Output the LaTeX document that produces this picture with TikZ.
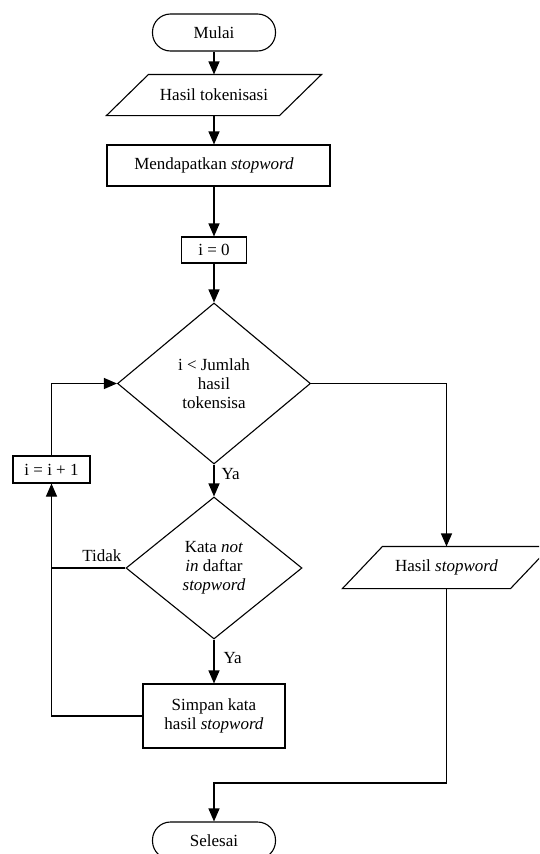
\documentclass[tikz,border=0pt]{standalone}
\usepackage{fontspec}
\setmainfont{Liberation Serif}
\usetikzlibrary{arrows.meta,shapes.geometric,calc}
\begin{document}
\begin{tikzpicture}[x=1pt,y=-1pt, line width=1.1pt,
  every node/.style={font=\fontsize{17}{19}\selectfont, inner sep=0pt, align=center},
  box/.style={draw, rectangle},
  term/.style={draw, rectangle, rounded corners=18pt, minimum width=123pt, minimum height=37pt},
  dec/.style={draw, diamond},
  para/.style={rectangle},
  arr/.style={-{Triangle[length=13pt,width=11pt]}},
]
\useasboundingbox (0,0) rectangle (539,854);
\clip (0,0) rectangle (539,854);

% nodes
\node[term] (mulai) at (214,32.5) {Mulai};
\node[para, minimum width=172pt, minimum height=40pt] (tok) at (214,95) {Hasil tokenisasi};
\draw ([xshift=21pt]tok.north west) -- ([xshift=21pt]tok.north east)
   -- ([xshift=-21pt]tok.south east) -- ([xshift=-21pt]tok.south west) -- cycle;
\node[box, minimum width=223pt, minimum height=41pt] (mend) at (218.5,165.5) {Mendapatkan \textit{stopword}\hspace*{9pt}};
\node[box, minimum width=65pt, minimum height=26pt] (i0) at (214,250) {i = 0};
\node[dec, minimum width=193pt, minimum height=161pt] (d1) at (214,383.5) {i < Jumlah\\hasil\\tokensisa};
\node[dec, minimum width=176pt, minimum height=142pt] (d2) at (214,568) {Kata \textit{not}\\\textit{in} daftar\\\textit{stopword}};
\node[box, minimum width=142pt, minimum height=64pt] (simpan) at (214,716) {Simpan kata\\hasil \textit{stopword}};
\node[box, minimum width=77pt, minimum height=27pt] (inc) at (51.5,469.5) {i = i + 1};
\node[para, minimum width=167pt, minimum height=41pt] (hs) at (446.5,567.5) {Hasil \textit{stopword}};
\draw ([xshift=20pt]hs.north west) -- ([xshift=20pt]hs.north east)
   -- ([xshift=-20pt]hs.south east) -- ([xshift=-20pt]hs.south west) -- cycle;
\node[term] (sel) at (214,840.5) {Selesai};
\coordinate (low) at (0,783);

% connectors
\draw[arr] (mulai) -- (tok);
\draw[arr] (tok.south) -- (tok.south |- mend.north);
\draw[arr] (i0.north |- mend.south) -- (i0.north);
\draw[arr] (i0) -- (d1.north);
\draw[arr] (d1.south) -- node[pos=0.3, anchor=west, xshift=7pt] {Ya} (d2.north);
\draw[arr] (d2.south) -- node[pos=0.42, anchor=west, xshift=9pt] {Ya} (simpan.north);
\draw (d2.west) -- node[pos=0.32, above=6pt] {Tidak} (d2.west -| inc.south);
\draw[arr] (simpan.west) -| (inc.south);
\draw[arr] (inc.north) |- (d1.west);
\draw[arr] (d1.east) -| (hs.north);
\draw[arr] (hs.south) |- (low -| sel.north) -- (sel.north);
\end{tikzpicture}
\end{document}
